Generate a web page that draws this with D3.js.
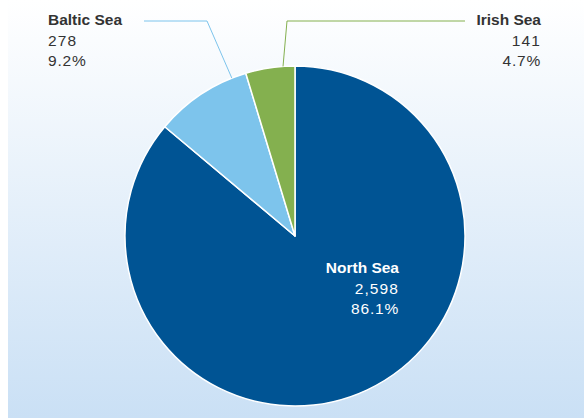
<!DOCTYPE html>
<html><head><meta charset="utf-8">
<script src="https://cdn.jsdelivr.net/npm/d3@7"></script>
<style>body{margin:0;background:#fff}svg{display:block}</style>
</head><body>
<script>
const categories = ["North Sea", "Baltic Sea", "Irish Sea"];
const values = [2598, 278, 141];
const percents = ["86.1%", "9.2%", "4.7%"];
const colors = ["#005494", "#7dc4ec", "#84b04f"];

const W = 584, H = 418;
const svg = d3.select("body").append("svg").attr("width", W).attr("height", H);
const defs = svg.append("defs");
const grad = defs.append("linearGradient").attr("id", "bg").attr("x1", 0).attr("y1", 0).attr("x2", 0).attr("y2", 1);
grad.append("stop").attr("offset", "0%").attr("stop-color", "#ffffff");
grad.append("stop").attr("offset", "100%").attr("stop-color", "#cae0f5");
svg.append("rect").attr("x", 8).attr("y", 0).attr("width", W - 8).attr("height", H).attr("fill", "url(#bg)");

const cx = 295, cy = 236, R = 170;
const pie = d3.pie().sort(null).value(d => d)(values);
const arc = d3.arc().innerRadius(0).outerRadius(R);
const g = svg.append("g").attr("transform", `translate(${cx},${cy})`);
g.selectAll("path").data(pie).join("path")
  .attr("d", arc).attr("fill", (d, i) => colors[i])
  .attr("stroke", "#fff").attr("stroke-width", 1.5).attr("stroke-linejoin", "round");

const fmt = d3.format(",");
const font = "'Liberation Sans', Arial, sans-serif";

function edgePoint(d, frac) {
  const a = d.startAngle + (d.endAngle - d.startAngle) * frac;
  return [cx + R * Math.sin(a), cy - R * Math.cos(a)];
}
const pB = edgePoint(pie[1], 0.85);
const pI = edgePoint(pie[2], 0.76);
svg.append("polyline").attr("points", `144,21 207,21 ${pB[0]},${pB[1]}`)
  .attr("fill", "none").attr("stroke", colors[1]).attr("stroke-width", 1);
svg.append("polyline").attr("points", `465,21 287,21 ${pI[0]},${pI[1]}`)
  .attr("fill", "none").attr("stroke", colors[2]).attr("stroke-width", 1);

function label(x, y, anchor, i, fill) {
  const t = svg.append("text").attr("x", x).attr("y", y).attr("text-anchor", anchor)
    .attr("font-family", font).attr("font-size", 15.5).attr("fill", fill);
  t.append("tspan").attr("x", x).attr("font-weight", "bold").text(categories[i]);
  t.append("tspan").attr("x", x).attr("dy", 20.5).attr("letter-spacing", 1.1).text(fmt(values[i]));
  t.append("tspan").attr("x", x).attr("dy", 20.5).attr("letter-spacing", 0.8).text(percents[i]);
}
label(48, 25, "start", 1, "#333");
label(541, 25, "end", 2, "#333");
label(399, 273, "end", 0, "#fff");
</script>
</body></html>
